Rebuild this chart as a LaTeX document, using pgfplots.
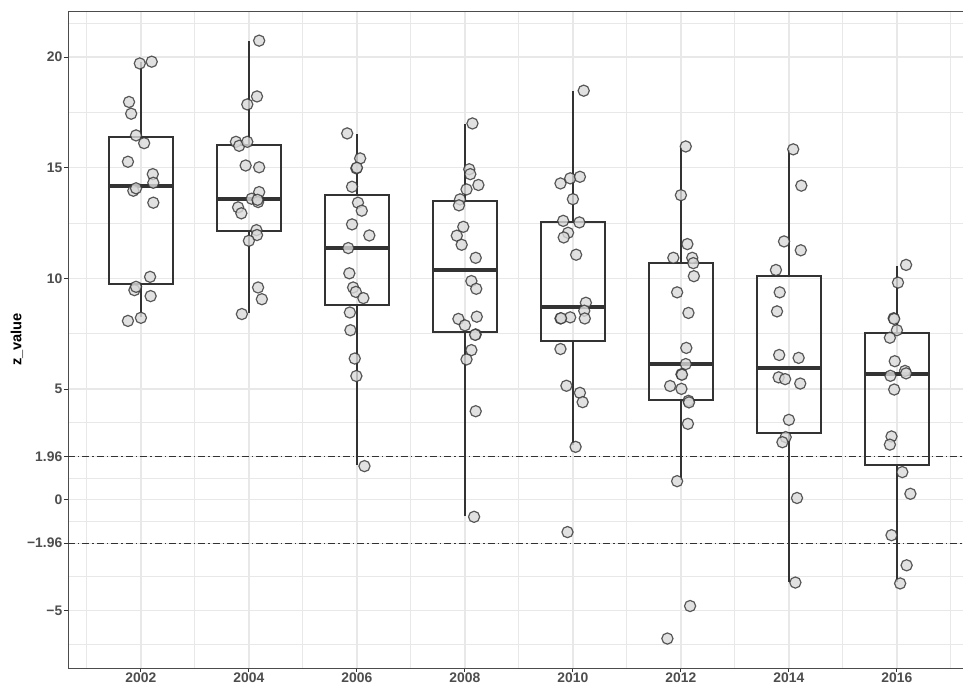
\documentclass[border=0pt]{standalone}
\usepackage{pgfplots}
\pgfplotsset{compat=1.18}
\usepgfplotslibrary{statistics}
\usepackage{fontspec}
\setmainfont{Liberation Sans}
\definecolor{grey20}{HTML}{333333}
\definecolor{grey30}{HTML}{4D4D4D}
\definecolor{grey92}{HTML}{E8E8E8}
\definecolor{ptfill}{HTML}{D9D9D9}
% x positions are years minus 2000
\begin{document}
\begin{tikzpicture}
\path[use as bounding box] (-51pt,-12.75pt) rectangle (671.25pt,501pt);
\begin{axis}[
 at={(0,0)}, anchor=south west,
 scale only axis, width=676.35pt, height=492.75pt,
 xmin=0.65, xmax=17.35, ymin=-7.6, ymax=22.08,
 xtick={2,4,...,16},
 xticklabels={2002,2004,2006,2008,2010,2012,2014,2016},
 minor xtick={1,3,...,17},
 ytick={-5,-1.96,0,1.96,5,10,15,20},
 yticklabels={−5,−1.96,0,1.96,5,10,15,20},
 minor ytick={-6.52,-3.48,-0.98,0.98,3.48,7.5,12.5,17.5,21.52},
 grid=both,
 major grid style={color=grey92, line width=0.95pt},
 minor grid style={color=grey92, line width=0.8pt},
 tick pos=left, tick align=outside,
 major tick length=3pt, minor tick length=0pt,
 tick style={grey20, line width=0.7pt},
 axis line style={black!70, line width=0.65pt},
 ticklabel style={font=\fontsize{10.4}{12}\selectfont\bfseries, text=grey30},
 xticklabel style={yshift=2.6pt},
 yticklabel style={xshift=2.2pt},
 ylabel={z\_value},
 ylabel style={font=\fontsize{11}{13}\selectfont\bfseries, at={(axis description cs:-0.05655,0.5)}, anchor=center},
 boxplot/draw direction=y,
 boxplot/every box/.style={line width=1.5pt},
 boxplot/every median/.style={line width=3pt},
 whisk/.style={grey20, line width=1.6pt, forget plot},
]
% reference lines
\addplot[grey20, line width=0.65pt, dash pattern=on 5.25pt off 2.25pt on 1.1pt off 2.25pt] coordinates {(0.65,1.96) (17.35,1.96)};
\addplot[grey20, line width=0.65pt, dash pattern=on 5.25pt off 2.25pt on 1.1pt off 2.25pt] coordinates {(0.65,-1.96) (17.35,-1.96)};
% whiskers (lower whisker to upper whisker; box is drawn over)
\addplot[whisk] coordinates {(2,8.27) (2,9.74)};
\addplot[whisk] coordinates {(2,16.37) (2,19.76)};
\addplot[whisk] coordinates {(4,8.42) (4,12.15)};
\addplot[whisk] coordinates {(4,16.02) (4,20.71)};
\addplot[whisk] coordinates {(6,1.56) (6,8.79)};
\addplot[whisk] coordinates {(6,13.75) (6,16.52)};
\addplot[whisk] coordinates {(8,-0.74) (8,7.59)};
\addplot[whisk] coordinates {(8,13.49) (8,16.97)};
\addplot[whisk] coordinates {(10,2.47) (10,7.18)};
\addplot[whisk] coordinates {(10,12.54) (10,18.48)};
\addplot[whisk] coordinates {(12,0.88) (12,4.51)};
\addplot[whisk] coordinates {(12,10.69) (12,15.9)};
\addplot[whisk] coordinates {(14,-3.7) (14,3.02)};
\addplot[whisk] coordinates {(14,10.1) (14,15.8)};
\addplot[whisk] coordinates {(16,-3.7) (16,1.59)};
\addplot[whisk] coordinates {(16,7.55) (16,10.54)};
% boxes
\addplot[grey20, line width=1.5pt, boxplot prepared={draw position=2, lower whisker=8.27, lower quartile=9.74, median=14.18, upper quartile=16.37, upper whisker=19.76, box extend=1.2, whisker extend=0}] coordinates {};
\addplot[grey20, line width=1.5pt, boxplot prepared={draw position=4, lower whisker=8.42, lower quartile=12.15, median=13.57, upper quartile=16.02, upper whisker=20.71, box extend=1.2, whisker extend=0}] coordinates {};
\addplot[grey20, line width=1.5pt, boxplot prepared={draw position=6, lower whisker=1.56, lower quartile=8.79, median=11.38, upper quartile=13.75, upper whisker=16.52, box extend=1.2, whisker extend=0}] coordinates {};
\addplot[grey20, line width=1.5pt, boxplot prepared={draw position=8, lower whisker=-0.74, lower quartile=7.59, median=10.38, upper quartile=13.49, upper whisker=16.97, box extend=1.2, whisker extend=0}] coordinates {};
\addplot[grey20, line width=1.5pt, boxplot prepared={draw position=10, lower whisker=2.47, lower quartile=7.18, median=8.72, upper quartile=12.54, upper whisker=18.48, box extend=1.2, whisker extend=0}] coordinates {};
\addplot[grey20, line width=1.5pt, boxplot prepared={draw position=12, lower whisker=0.88, lower quartile=4.51, median=6.12, upper quartile=10.69, upper whisker=15.9, box extend=1.2, whisker extend=0}] coordinates {};
\addplot[grey20, line width=1.5pt, boxplot prepared={draw position=14, lower whisker=-3.7, lower quartile=3.02, median=5.96, upper quartile=10.1, upper whisker=15.8, box extend=1.2, whisker extend=0}] coordinates {};
\addplot[grey20, line width=1.5pt, boxplot prepared={draw position=16, lower whisker=-3.7, lower quartile=1.59, median=5.68, upper quartile=7.55, upper whisker=10.54, box extend=1.2, whisker extend=0}] coordinates {};
% jittered points
\addplot[only marks, mark=*, mark size=4.2pt, mark options={fill=ptfill, draw=grey20, line width=0.9pt, fill opacity=0.8, draw opacity=0.8}] table {
x y
1.98 19.71
2.20 19.79
1.78 17.97
1.82 17.44
1.91 16.46
2.06 16.11
1.76 15.27
2.22 14.71
2.23 14.32
1.86 13.96
1.91 14.07
2.23 13.42
2.17 10.07
1.88 9.47
1.91 9.62
2.18 9.20
1.76 8.08
2.00 8.22
4.19 20.74
4.15 18.22
3.97 17.86
3.76 16.17
3.82 15.99
3.97 16.17
3.94 15.10
4.19 15.02
4.19 13.90
4.05 13.60
4.17 13.45
4.16 13.55
3.80 13.21
3.86 12.94
4.14 12.18
4.15 11.96
4.00 11.70
4.17 9.59
4.24 9.06
3.87 8.39
5.82 16.55
6.06 15.42
5.99 14.97
6.00 15.00
5.91 14.14
6.02 13.42
6.09 13.06
5.91 12.44
6.23 11.94
5.84 11.37
5.86 10.23
5.93 9.59
5.98 9.39
6.12 9.11
5.87 8.46
5.88 7.66
5.96 6.38
5.99 5.59
6.14 1.52
8.14 17.00
8.08 14.93
8.10 14.71
8.25 14.22
8.03 14.02
7.91 13.57
7.89 13.30
7.97 12.33
7.85 11.93
7.94 11.52
8.20 10.93
8.12 9.88
8.21 9.53
8.22 8.27
7.88 8.17
8.00 7.88
8.20 7.47
8.19 7.45
8.12 6.76
8.03 6.34
8.20 4.00
8.17 -0.77
10.20 18.48
9.77 14.29
9.95 14.52
10.13 14.59
10.00 13.58
9.82 12.60
10.12 12.53
9.91 12.06
9.83 11.85
10.06 11.07
10.24 8.90
10.21 8.54
9.95 8.24
9.77 8.19
9.78 8.20
10.22 8.19
9.77 6.81
9.88 5.15
10.13 4.83
10.18 4.41
10.05 2.39
9.90 -1.46
12.09 15.96
12.00 13.76
12.12 11.55
11.86 10.93
12.21 10.93
12.23 10.69
12.24 10.10
11.93 9.37
12.14 8.44
12.10 6.86
12.09 6.13
12.01 5.67
12.02 5.65
11.80 5.14
12.01 5.01
12.14 4.47
12.15 4.40
12.13 3.43
11.93 0.84
12.17 -4.80
11.75 -6.27
14.08 15.83
14.23 14.19
13.91 11.67
14.22 11.27
13.76 10.38
13.83 9.37
13.78 8.51
13.82 6.54
14.18 6.41
13.81 5.53
13.93 5.45
14.21 5.25
14.00 3.61
13.94 2.83
13.88 2.60
14.15 0.08
14.12 -3.74
16.17 10.61
16.02 9.81
15.94 8.20
15.95 8.17
16.00 7.66
15.87 7.32
15.96 6.26
15.88 5.60
16.15 5.82
16.17 5.71
15.95 4.98
15.90 2.86
15.87 2.49
16.10 1.25
16.25 0.27
15.90 -1.60
16.18 -2.96
16.06 -3.78
};
\end{axis}
\end{tikzpicture}
\end{document}
